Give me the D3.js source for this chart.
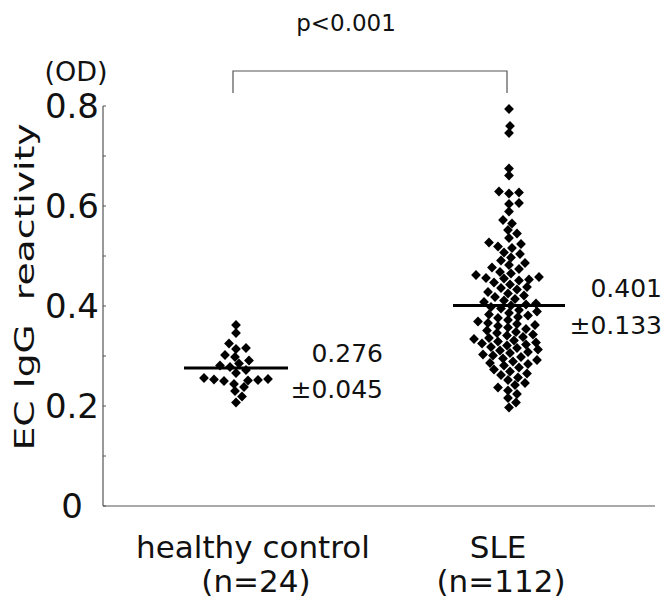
<!DOCTYPE html>
<html><head><meta charset="utf-8">
<script src="https://cdn.jsdelivr.net/npm/d3@7"></script>
<style>
body{margin:0;background:#fff}
svg{display:block}
text{font-family:"DejaVu Sans",sans-serif;fill:#111}
</style>
</head><body>
<svg id="c" width="666" height="600"></svg>
<script>
const categories = ["healthy control", "SLE"];
const groupSizes = ["(n=24)", "(n=112)"];
const meanValues = [0.276, 0.401];
const sdValues = [0.045, 0.133];
const pLabel = "p<0.001";
const yTickValues = [0, 0.2, 0.4, 0.6, 0.8];
const yMinorTickValues = [0, 0.1, 0.2, 0.3, 0.4, 0.5, 0.6, 0.7, 0.8];
const yAxisTitle = "EC IgG  reactivity";
const yUnit = "(OD)";

const healthyValues = [0.362, 0.346, 0.325, 0.314, 0.316, 0.302, 0.298, 0.291, 0.285, 0.281,
  0.278, 0.272, 0.266, 0.256, 0.254, 0.253, 0.252, 0.251, 0.250, 0.244, 0.238, 0.230, 0.219, 0.207];

const sleValues = [0.794, 0.760, 0.746, 0.675, 0.661, 0.629, 0.627, 0.625, 0.606, 0.604,
  0.589, 0.572, 0.565, 0.552, 0.545, 0.536, 0.527, 0.524, 0.519, 0.516,
  0.507, 0.504, 0.497, 0.491, 0.486, 0.482, 0.477, 0.474, 0.468, 0.465,
  0.462, 0.458, 0.456, 0.455, 0.453, 0.451, 0.447, 0.443, 0.438, 0.436,
  0.433, 0.428, 0.425, 0.421, 0.418, 0.414, 0.411, 0.408, 0.405, 0.403,
  0.401, 0.398, 0.395, 0.392, 0.389, 0.386, 0.383, 0.381, 0.378, 0.376,
  0.372, 0.369, 0.366, 0.364, 0.362, 0.360, 0.357, 0.354, 0.351, 0.348,
  0.346, 0.343, 0.341, 0.338, 0.336, 0.334, 0.331, 0.329, 0.327, 0.325,
  0.323, 0.321, 0.318, 0.316, 0.313, 0.311, 0.308, 0.306, 0.303, 0.301,
  0.298, 0.295, 0.292, 0.289, 0.286, 0.284, 0.281, 0.277, 0.273, 0.269,
  0.265, 0.262, 0.257, 0.252, 0.246, 0.242, 0.237, 0.231, 0.224, 0.216,
  0.207, 0.197];

const groupValues = [healthyValues, sleValues];

const svg = d3.select("#c");
const axisX = 103, axisBottom = 506, axisTop = 106, axisRight = 655;

const y = d3.scaleLinear().domain([0, 0.8]).range([axisBottom, axisTop]);
const x = d3.scalePoint().domain(categories).range([236, 509]);

// y axis line
svg.append("line").attr("x1", axisX).attr("x2", axisX).attr("y1", y(0.8)).attr("y2", y(0))
  .attr("stroke", "#555").attr("stroke-width", 1.2);
// x axis line
svg.append("line").attr("x1", axisX).attr("x2", axisRight).attr("y1", y(0)).attr("y2", y(0))
  .attr("stroke", "#555").attr("stroke-width", 1.2);

// minor ticks (inside)
svg.selectAll("line.tick").data(yMinorTickValues).join("line")
  .attr("class", "tick")
  .attr("x1", axisX).attr("x2", axisX + 3)
  .attr("y1", d => y(d)).attr("y2", d => y(d))
  .attr("stroke", "#555").attr("stroke-width", 1);

// tick labels
svg.selectAll("text.ylab").data(yTickValues).join("text")
  .attr("class", "ylab")
  .attr("x", d => d === 0 ? 83 : 99)
  .attr("y", d => y(d))
  .attr("dy", "0.36em")
  .attr("text-anchor", "end")
  .attr("font-size", 34)
  .text(d => d === 0 ? "0" : d3.format(".1f")(d));

// unit
svg.append("text").attr("x", 76).attr("y", 81).attr("text-anchor", "middle")
  .attr("font-size", 27).text(yUnit);

// axis title
svg.append("text")
  .attr("transform", `translate(34,${287}) rotate(-90)`)
  .attr("text-anchor", "middle")
  .attr("font-size", 26)
  .attr("textLength", 327)
  .attr("lengthAdjust", "spacingAndGlyphs")
  .style("white-space", "pre")
  .text(yAxisTitle);

// category labels
const labelX = [253, 498];
svg.selectAll("text.cat").data(categories).join("text")
  .attr("class", "cat")
  .attr("x", (d, i) => labelX[i]).attr("y", 558)
  .attr("text-anchor", "middle").attr("font-size", 31)
  .text(d => d);
svg.selectAll("text.n").data(groupSizes).join("text")
  .attr("class", "n")
  .attr("x", (d, i) => labelX[i] + 3).attr("y", 592)
  .attr("text-anchor", "middle").attr("font-size", 31)
  .text(d => d);

// bracket
const bx1 = x(categories[0]) - 3, bx2 = x(categories[1]) - 2;
svg.append("path")
  .attr("d", `M${bx1},93 V71 H${bx2} V93`)
  .attr("fill", "none").attr("stroke", "#555").attr("stroke-width", 1.2);
svg.append("text").attr("x", 346).attr("y", 31).attr("text-anchor", "middle")
  .attr("font-size", 23).text(pLabel);

// beeswarm
const DX = 10, DY = 7;
function swarm(values, cx) {
  const pts = values.map(v => ({ v, y: y(v) })).sort((a, b) => a.v - b.v);
  const placed = [];
  for (const p of pts) {
    let found = null;
    for (let k = 0; k < 300 && found === null; k++) {
      const cands = k === 0 ? [0] : [k, -k];
      for (const c of cands) {
        if (placed.every(q => ((q.dx - c) / DX) ** 2 + ((q.y - p.y) / DY) ** 2 >= 1)) { found = c; break; }
      }
    }
    p.dx = found;
    placed.push(p);
  }
  return placed.map(p => ({ v: p.v, x: cx + p.dx, y: p.y }));
}

const diamond = d3.symbol().type(d3.symbolSquare).size(48);
groupValues.forEach((vals, gi) => {
  const pts = swarm(vals, x(categories[gi]));
  svg.append("g").selectAll("path").data(pts).join("path")
    .attr("d", diamond)
    .attr("transform", d => `translate(${d.x},${d.y}) rotate(45)`)
    .attr("fill", "#000");
});

// mean lines
const halfW = [52, 56];
meanValues.forEach((m, i) => {
  svg.append("line")
    .attr("x1", x(categories[i]) - halfW[i]).attr("x2", x(categories[i]) + halfW[i])
    .attr("y1", y(m)).attr("y2", y(m))
    .attr("stroke", "#000").attr("stroke-width", 2.8);
});

// mean ± sd labels
const statX = [383, 662];
const statY = [[362, 398], [297, 334]];
meanValues.forEach((m, i) => {
  svg.append("text").attr("x", statX[i]).attr("y", statY[i][0]).attr("text-anchor", "end")
    .attr("font-size", 25).text(d3.format(".3f")(m));
  svg.append("text").attr("x", statX[i]).attr("y", statY[i][1]).attr("text-anchor", "end")
    .attr("font-size", 25).text("±" + d3.format(".3f")(sdValues[i]));
});
</script>
</body></html>
